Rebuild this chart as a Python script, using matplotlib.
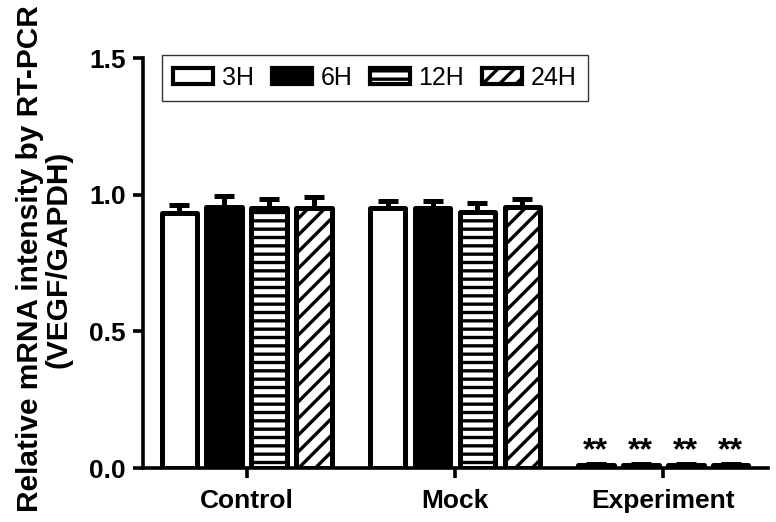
import numpy as np
import matplotlib
matplotlib.use("Agg")
import matplotlib.pyplot as plt
from matplotlib.patches import Patch

plt.rcParams['font.family'] = ['Liberation Sans', 'DejaVu Sans']
plt.rcParams['hatch.linewidth'] = 2.4

groups = ["Control", "Mock", "Experiment"]
series = ["3H", "6H", "12H", "24H"]
means = {
    "3H": [0.934, 0.950, 0.012],
    "6H": [0.956, 0.950, 0.012],
    "12H": [0.950, 0.938, 0.012],
    "24H": [0.951, 0.956, 0.012],
}
errors = {
    "3H": [0.030, 0.026, 0.004],
    "6H": [0.040, 0.028, 0.004],
    "12H": [0.035, 0.030, 0.004],
    "24H": [0.040, 0.030, 0.004],
}
significance = ["", "", "**"]

fills = {"3H": "white", "6H": "black", "12H": "white", "24H": "white"}
hatches = {"3H": None, "6H": None, "12H": "--", "24H": "//"}

fig = plt.figure(figsize=(7.76, 5.22), dpi=100)
ax = fig.add_axes([0.184, 0.1034, 0.806, 0.7854])

x = np.arange(len(groups))
pitch = 0.216
width = 0.172
lw = 3.6

for i, s in enumerate(series):
    pos = x + (i - 1.5) * pitch
    bars = ax.bar(pos, means[s], width, color=fills[s], edgecolor='black',
                  linewidth=lw, hatch=hatches[s], zorder=3)
    for b in bars:
        b.set_joinstyle('round')
    ax.errorbar(pos, means[s], yerr=[np.zeros(len(groups)), errors[s]],
                fmt='none', ecolor='black', elinewidth=lw, capsize=7.5,
                capthick=lw, zorder=2)
    for j, p in enumerate(pos):
        if significance[j]:
            ax.text(p, means[s][j] + errors[s][j] - 0.008, significance[j],
                    ha='center', va='bottom', fontsize=23, fontweight='bold')

ax.set_xlim(-0.5, 2.505)
ax.set_ylim(0, 1.5)
ax.set_yticks([0.0, 0.5, 1.0, 1.5])
ax.set_yticklabels(["0.0", "0.5", "1.0", "1.5"])
ax.set_xticks(x)
ax.set_xticklabels(groups)

for side in ['top', 'right']:
    ax.spines[side].set_visible(False)
for side in ['left', 'bottom']:
    ax.spines[side].set_linewidth(2.6)
ax.tick_params(axis='both', width=2.6, length=7, labelsize=19)
ax.tick_params(axis='y', pad=5)
ax.tick_params(axis='x', pad=8)
for lab in ax.get_xticklabels() + ax.get_yticklabels():
    lab.set_fontweight('bold')

ax.set_ylabel("Relative mRNA intensity by RT-PCR\n(VEGF/GAPDH)",
              fontsize=21.5, fontweight='bold', linespacing=1.0)
ax.yaxis.set_label_coords(-0.113, 0.51)

handles = [Patch(facecolor=fills[s], edgecolor='black', linewidth=3.0,
                 hatch=hatches[s], joinstyle='round') for s in series]
leg = ax.legend(handles, series, loc='upper left', bbox_to_anchor=(0.031, 1.008),
                ncol=4, fontsize=18, frameon=True, fancybox=False,
                handlelength=1.6, handleheight=0.6, handletextpad=0.35,
                columnspacing=0.7, borderpad=0.45, borderaxespad=0)
leg.get_frame().set_edgecolor('black')
leg.get_frame().set_linewidth(1.0)

fig.savefig("out.png", dpi=100)
